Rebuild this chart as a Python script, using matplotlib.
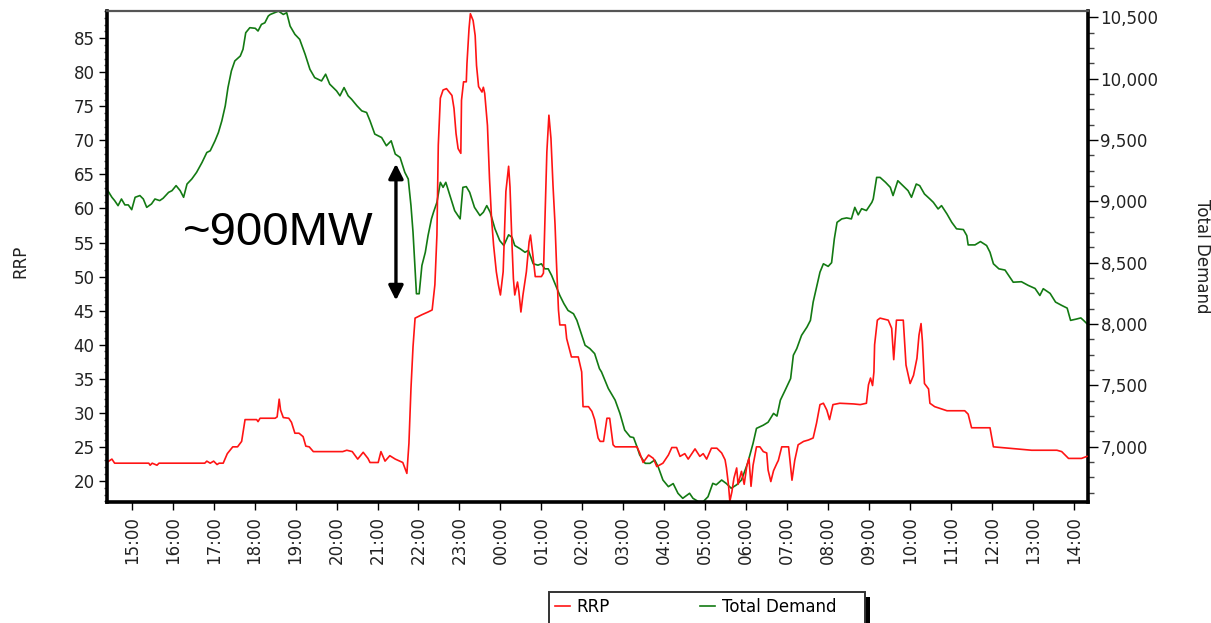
import matplotlib
matplotlib.use('Agg')
import matplotlib.pyplot as plt
import matplotlib.ticker as mticker
from matplotlib.patches import Rectangle

# RRP ($/MWh), 5-min dispatch data 14:25 -> 14:20 next day
rrp_time = ["14:25", "14:31", "14:35", "15:25", "15:27", "15:30", "15:37", "15:40", "16:47", "16:50",
            "16:55", "17:00", "17:05", "17:08", "17:14", "17:20", "17:28", "17:35", "17:41", "17:46",
            "18:03", "18:05", "18:08", "18:30", "18:33", "18:36", "18:38", "18:42", "18:50", "18:54",
            "18:59", "19:05", "19:11", "19:15", "19:20", "19:26", "20:09", "20:15", "20:23", "20:31",
            "20:39", "20:46", "20:49", "21:01", "21:05", "21:11", "21:18", "21:26", "21:37", "21:43",
            "21:46", "21:49", "21:52", "21:55", "22:05", "22:14", "22:20", "22:24", "22:27", "22:29",
            "22:32", "22:36", "22:41", "22:49", "22:52", "22:55", "22:58", "23:02", "23:03", "23:06",
            "23:10", "23:11", "23:14", "23:16", "23:20", "23:23", "23:25", "23:28", "23:33", "23:35",
            "23:37", "23:41", "23:44", "23:47", "23:50", "23:54", "23:57", "00:00", "00:04", "00:08",
            "00:12", "00:14", "00:17", "00:19", "00:21", "00:25", "00:27", "00:30", "00:33", "00:38",
            "00:42", "00:44", "00:47", "00:51", "01:00", "01:03", "01:05", "01:08", "01:11", "01:14",
            "01:17", "01:20", "01:22", "01:25", "01:27", "01:35", "01:37", "01:44", "01:54", "01:59",
            "02:01", "02:09", "02:14", "02:18", "02:23", "02:26", "02:31", "02:36", "02:40", "02:45",
            "02:48", "03:20", "03:24", "03:29", "03:37", "03:44", "03:49", "03:58", "04:06", "04:11",
            "04:18", "04:23", "04:30", "04:35", "04:45", "04:52", "04:57", "05:02", "05:09", "05:17",
            "05:24", "05:29", "05:31", "05:34", "05:36", "05:39", "05:42", "05:46", "05:48", "05:53",
            "05:57", "06:01", "06:04", "06:07", "06:10", "06:15", "06:20", "06:25", "06:30", "06:32",
            "06:36", "06:40", "06:45", "06:47", "06:52", "07:02", "07:04", "07:07", "07:11", "07:16",
            "07:24", "07:31", "07:38", "07:43", "07:48", "07:53", "07:58", "08:02", "08:07", "08:17",
            "08:37", "08:47", "08:56", "08:59", "09:02", "09:05", "09:07", "09:08", "09:12", "09:16",
            "09:28", "09:33", "09:36", "09:40", "09:50", "09:54", "10:00", "10:05", "10:10", "10:13",
            "10:16", "10:18", "10:21", "10:27", "10:29", "10:36", "10:54", "11:20", "11:25", "11:30",
            "11:57", "12:02", "12:24", "12:58", "13:35", "13:42", "13:52", "14:11", "14:19"]
rrp = [22.8, 23.2, 22.6, 22.6, 22.3, 22.6, 22.3, 22.6, 22.6, 22.9,
       22.6, 22.9, 22.4, 22.6, 22.6, 24.0, 25.0, 25.0, 25.8, 29.0,
       29.0, 28.7, 29.2, 29.2, 29.4, 32.0, 30.4, 29.3, 29.2, 28.6,
       27.0, 27.0, 26.5, 25.1, 25.0, 24.3, 24.3, 24.5, 24.3, 23.2,
       24.2, 23.3, 22.7, 22.7, 24.3, 22.9, 23.7, 23.2, 22.7, 21.1,
       25.5, 33.6, 39.7, 43.9, 44.4, 44.8, 45.1, 48.8, 56.1, 69.3,
       76.2, 77.4, 77.6, 76.6, 74.7, 71.0, 68.8, 68.1, 75.9, 78.6,
       78.6, 81.3, 86.4, 88.6, 87.6, 85.4, 81.0, 77.9, 77.1, 77.8,
       76.9, 72.2, 64.4, 58.5, 54.6, 50.7, 48.8, 47.3, 50.7, 62.5,
       66.2, 63.2, 54.6, 49.7, 47.3, 49.2, 47.8, 44.8, 47.3, 50.7,
       55.1, 56.1, 53.6, 50.0, 50.0, 50.5, 57.8, 68.3, 73.7, 70.3,
       63.4, 57.6, 52.2, 45.1, 42.9, 42.9, 40.9, 38.2, 38.2, 36.0,
       30.9, 30.9, 30.2, 29.0, 26.3, 25.8, 25.8, 29.2, 29.2, 25.3,
       25.0, 25.0, 24.1, 22.7, 23.8, 23.3, 22.1, 22.6, 23.8, 24.9,
       24.9, 23.6, 24.0, 23.2, 24.7, 23.6, 24.0, 23.2, 24.8, 24.8,
       24.1, 23.1, 21.9, 19.4, 17.0, 18.4, 20.4, 21.9, 19.5, 21.4,
       19.5, 22.3, 23.3, 19.2, 22.3, 25.0, 25.0, 24.3, 24.1, 21.6,
       19.9, 21.5, 22.6, 23.0, 25.0, 25.0, 23.0, 20.1, 23.0, 25.3,
       25.8, 26.0, 26.3, 28.5, 31.2, 31.4, 30.4, 29.0, 31.2, 31.4,
       31.3, 31.2, 31.4, 34.1, 35.1, 34.0, 36.0, 40.0, 43.6, 43.9,
       43.6, 42.4, 37.8, 43.6, 43.6, 37.0, 34.3, 35.5, 38.0, 41.4,
       43.1, 40.5, 34.3, 33.5, 31.4, 30.9, 30.3, 30.3, 29.8, 27.8,
       27.8, 25.0, 24.8, 24.5, 24.5, 24.3, 23.3, 23.3, 23.6]

# Total demand (MW)
dem_time = ["14:25", "14:31", "14:35", "14:40", "14:45", "14:50", "14:55", "15:00", "15:05", "15:12",
            "15:17", "15:22", "15:29", "15:34", "15:41", "15:46", "15:54", "15:59", "16:05", "16:11",
            "16:16", "16:21", "16:28", "16:35", "16:43", "16:50", "16:55", "17:02", "17:07", "17:12",
            "17:17", "17:21", "17:26", "17:31", "17:39", "17:43", "17:47", "17:53", "18:01", "18:05",
            "18:10", "18:15", "18:20", "18:23", "18:35", "18:42", "18:47", "18:52", "18:59", "19:06",
            "19:14", "19:21", "19:28", "19:38", "19:44", "19:50", "20:00", "20:05", "20:11", "20:17",
            "20:22", "20:30", "20:37", "20:44", "20:49", "20:56", "21:06", "21:13", "21:20", "21:26",
            "21:33", "21:40", "21:45", "21:49", "21:52", "21:55", "21:57", "22:01", "22:05", "22:10",
            "22:14", "22:19", "22:22", "22:27", "22:32", "22:36", "22:40", "22:46", "22:53", "23:01",
            "23:05", "23:10", "23:15", "23:22", "23:30", "23:35", "23:40", "23:45", "23:52", "23:59",
            "00:05", "00:12", "00:17", "00:21", "00:29", "00:36", "00:41", "00:48", "00:55", "01:00",
            "01:05", "01:10", "01:15", "01:22", "01:27", "01:33", "01:39", "01:47", "01:52", "01:56",
            "02:04", "02:11", "02:18", "02:25", "02:28", "02:38", "02:48", "02:55", "03:02", "03:10",
            "03:15", "03:20", "03:24", "03:32", "03:39", "03:46", "03:51", "03:58", "04:06", "04:13",
            "04:20", "04:27", "04:37", "04:42", "04:50", "04:57", "05:04", "05:11", "05:16", "05:24",
            "05:31", "05:38", "05:46", "05:53", "06:02", "06:10", "06:15", "06:25", "06:32", "06:40",
            "06:45", "06:50", "06:57", "07:05", "07:09", "07:14", "07:21", "07:29", "07:34", "07:38",
            "07:43", "07:48", "07:53", "08:00", "08:05", "08:09", "08:13", "08:20", "08:27", "08:34",
            "08:39", "08:44", "08:49", "08:56", "09:04", "09:06", "09:11", "09:16", "09:24", "09:31",
            "09:35", "09:42", "09:49", "09:57", "10:02", "10:09", "10:14", "10:21", "10:29", "10:34",
            "10:41", "10:46", "10:54", "11:01", "11:08", "11:18", "11:23", "11:25", "11:35", "11:43",
            "11:52", "11:57", "12:02", "12:10", "12:19", "12:26", "12:31", "12:43", "12:53", "13:03",
            "13:10", "13:15", "13:25", "13:33", "13:42", "13:50", "13:55", "14:03", "14:10", "14:14",
            "14:19"]
demand = [9087, 9033, 9006, 8965, 9019, 8971, 8971, 8932, 9033, 9047,
          9019, 8951, 8979, 9019, 9006, 9025, 9073, 9087, 9128, 9087,
          9033, 9141, 9182, 9236, 9317, 9398, 9412, 9493, 9561, 9656,
          9778, 9927, 10063, 10144, 10184, 10239, 10374, 10415, 10410, 10388,
          10442, 10455, 10510, 10523, 10550, 10523, 10537, 10428, 10361, 10320,
          10198, 10076, 10008, 9981, 10036, 9955, 9900, 9860, 9927, 9860,
          9832, 9778, 9737, 9724, 9656, 9548, 9520, 9453, 9493, 9385,
          9358, 9236, 9182, 8965, 8748, 8450, 8247, 8247, 8477, 8585,
          8721, 8857, 8911, 8992, 9155, 9114, 9155, 9047, 8924, 8857,
          9114, 9120, 9073, 8951, 8884, 8911, 8965, 8911, 8776, 8680,
          8640, 8727, 8707, 8640, 8613, 8585, 8600, 8491, 8480, 8491,
          8450, 8450, 8396, 8301, 8233, 8166, 8111, 8084, 8030, 7963,
          7827, 7800, 7759, 7637, 7610, 7475, 7380, 7272, 7136, 7081,
          7075, 7000, 6933, 6865, 6865, 6892, 6837, 6729, 6675, 6700,
          6621, 6580, 6621, 6580, 6553, 6553, 6593, 6702, 6690, 6729,
          6700, 6662, 6690, 6729, 6865, 7028, 7150, 7176, 7200, 7272,
          7250, 7380, 7461, 7556, 7746, 7800, 7908, 7976, 8030, 8179,
          8301, 8423, 8491, 8470, 8500, 8694, 8829, 8857, 8865, 8857,
          8951, 8890, 8940, 8925, 8992, 9020, 9195, 9195, 9155, 9114,
          9047, 9168, 9130, 9087, 9033, 9141, 9128, 9060, 9019, 8992,
          8938, 8965, 8897, 8829, 8776, 8770, 8721, 8645, 8645, 8672,
          8640, 8585, 8491, 8450, 8440, 8382, 8341, 8345, 8315, 8290,
          8233, 8288, 8250, 8179, 8152, 8130, 8030, 8040, 8050, 8030,
          8003]

hour_labels = ["15:00", "16:00", "17:00", "18:00", "19:00", "20:00", "21:00", "22:00",
               "23:00", "00:00", "01:00", "02:00", "03:00", "04:00", "05:00", "06:00",
               "07:00", "08:00", "09:00", "10:00", "11:00", "12:00", "13:00", "14:00"]


def to_hours(s):
    # hours after 15:00 on day one; times before 14:22 belong to the next day
    h, m = map(int, s.split(':'))
    mins = h * 60 + m
    if mins < 14 * 60 + 22:
        mins += 1440
    return (mins - 900) / 60.0


rrp_x = [to_hours(t) for t in rrp_time]
dem_x = [to_hours(t) for t in dem_time]

fig = plt.figure(figsize=(12.11, 6.23), dpi=100)
ax = fig.add_axes([107 / 1211, 121 / 623, 981 / 1211, 491 / 623])
ax2 = ax.twinx()

l2, = ax2.plot(dem_x, demand, color='#137a13', lw=1.2)
l1, = ax.plot(rrp_x, rrp, color='#ff1414', lw=1.2)
ax.set_zorder(ax2.get_zorder() + 1)
ax.patch.set_visible(False)

ax.set_xlim(-0.603, 23.342)
ax.set_ylim(16.9, 89.0)
ax2.set_ylim(6550, 10551)

# spines
for s in ['left', 'bottom']:
    ax.spines[s].set_linewidth(2.6)
    ax.spines[s].set_color('black')
ax.spines['right'].set_visible(False)
ax.spines['top'].set_color('#555555')
ax.spines['top'].set_linewidth(1.6)
ax2.spines['right'].set_linewidth(2.6)
ax2.spines['right'].set_color('black')
for s in ['left', 'top', 'bottom']:
    ax2.spines[s].set_visible(False)

# left axis
ax.set_yticks(range(20, 90, 5))
ax.yaxis.set_minor_locator(mticker.MultipleLocator(1))
ax.tick_params(axis='y', which='major', length=6, width=1, pad=3, labelsize=12, labelcolor='#222222')
ax.tick_params(axis='y', which='minor', length=2.5, width=1, color='#555555')

# time axis
ax.set_xticks(range(24))
ax.set_xticklabels(hour_labels, rotation=90)
ax.tick_params(axis='x', which='major', length=6, width=1, pad=4, labelsize=12, labelcolor='#222222')

# right axis
ax2.set_yticks(range(7000, 10501, 500))
ax2.yaxis.set_major_formatter(mticker.StrMethodFormatter('{x:,.0f}'))
ax2.yaxis.set_minor_locator(mticker.MultipleLocator(125))
ax2.tick_params(axis='y', which='major', length=7, width=1, pad=2, labelsize=12, labelcolor='#222222')
ax2.tick_params(axis='y', which='minor', length=4, width=1, color='#444444')

ax.set_ylabel('RRP', fontsize=12, color='#222222', va='center')
ax.yaxis.set_label_coords(-0.0887, 0.49)
ax2.set_ylabel('Total Demand', fontsize=12, color='#222222', rotation=270, va='center', ha='center')
ax2.yaxis.set_label_coords(1.116, 0.50)

# annotation: demand drop
arrow_t = to_hours("21:27")
ax2.annotate('', xy=(arrow_t, 8193), xytext=(arrow_t, 9306),
             arrowprops=dict(arrowstyle='<|-|>', lw=2.4, color='black',
                             mutation_scale=22, shrinkA=0, shrinkB=0))
ax.text(0.0775, 0.523, '~900MW', transform=ax.transAxes, fontsize=34,
        family='Liberation Sans', va='baseline', ha='left', color='black')

# legend box with drop shadow at the bottom
fig.patches.append(Rectangle((554 / 1211, -0.02), 316 / 1211, (623 - 597) / 623 + 0.02,
                             transform=fig.transFigure, facecolor='black', edgecolor='none'))
fig.patches.append(Rectangle((549 / 1211, -0.02), 316 / 1211, (623 - 592) / 623 + 0.02,
                             transform=fig.transFigure, facecolor='white', edgecolor='#333333', lw=1.4))
fig.legend([l1, l2], ['RRP', 'Total Demand'], loc='center left',
           bbox_to_anchor=(555 / 1211, (623 - 607) / 623), ncol=2, frameon=False,
           fontsize=12, handlelength=0.9, handletextpad=0.4, columnspacing=5.4,
           borderpad=0, borderaxespad=0)

fig.savefig('out.png', dpi=100, facecolor='white')
